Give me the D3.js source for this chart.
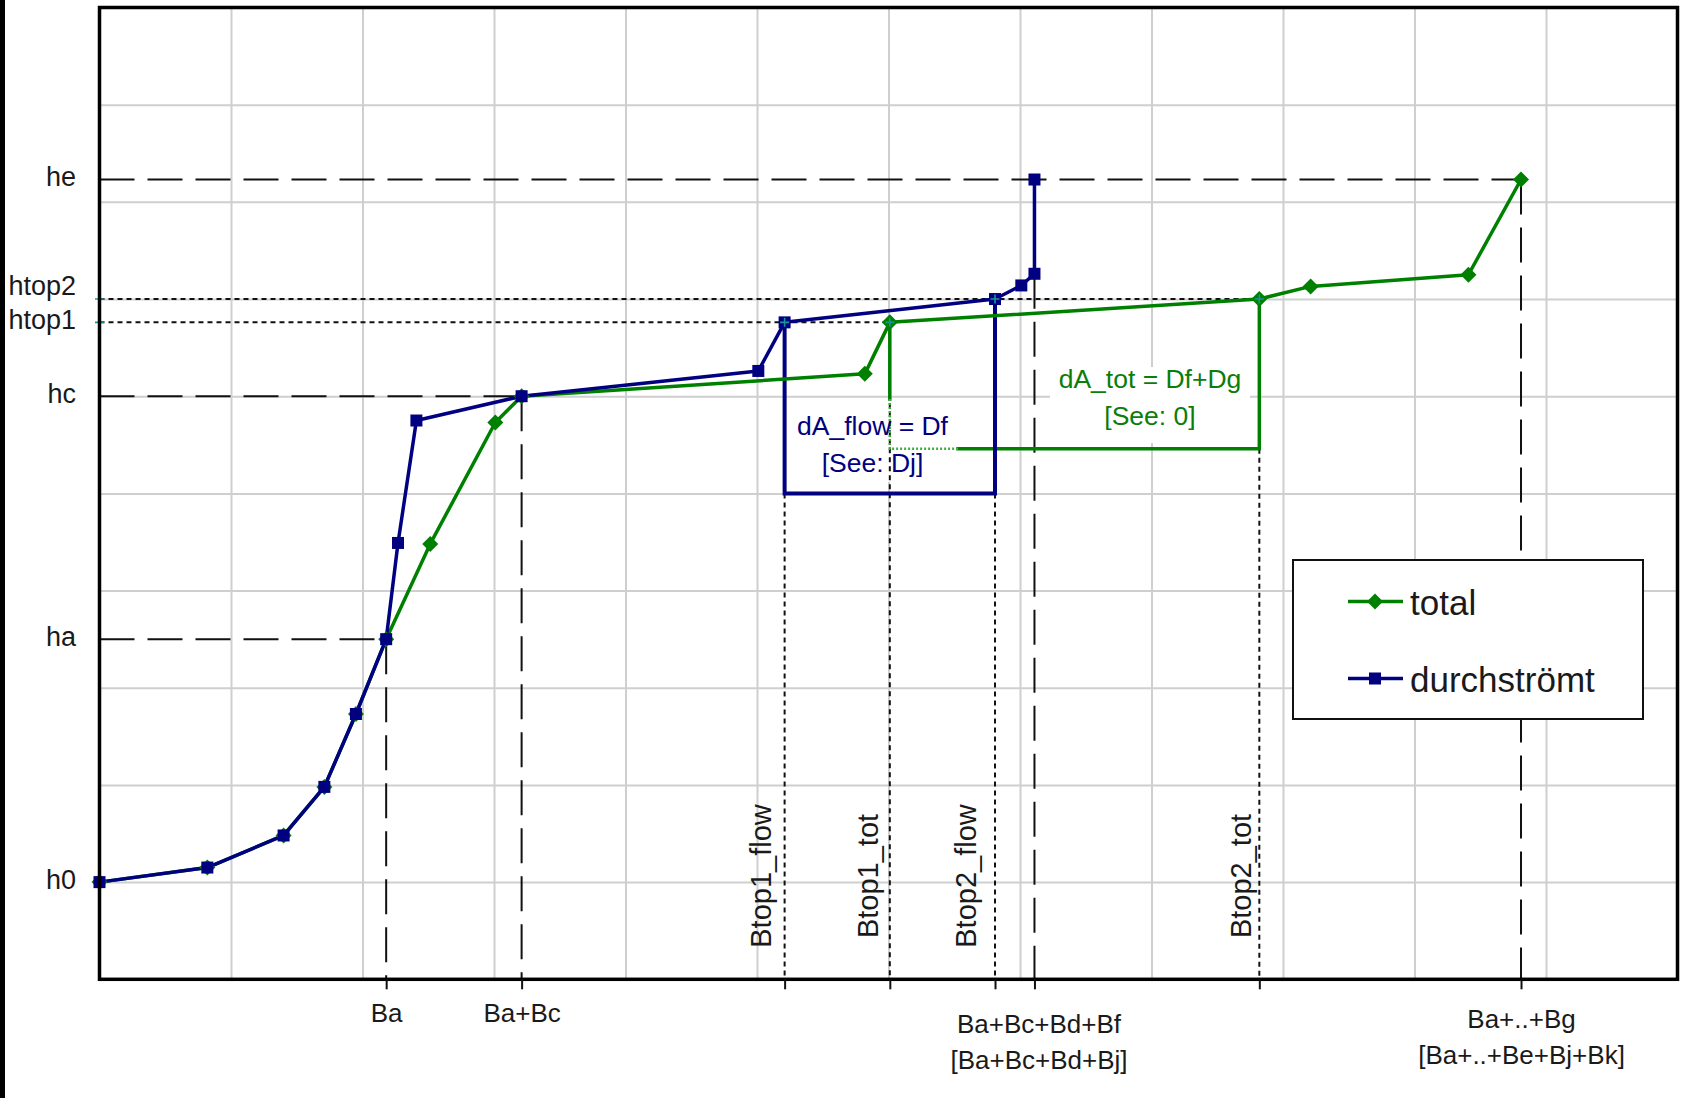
<!DOCTYPE html>
<html><head><meta charset="utf-8">
<script src="https://cdn.jsdelivr.net/npm/d3@7"></script>
<style>
html,body{margin:0;padding:0;background:#fff;}
svg{display:block;}
text{font-family:"Liberation Sans", Arial, sans-serif;}
</style></head><body>
<svg id="chart" width="1683" height="1098"></svg>
<script>
// ---------------- data ----------------
const seriesNames = ["total", "durchströmt"];
const totalX = [0, 0.82, 1.40, 1.71, 1.95, 2.18, 2.515, 3.01, 3.21, 5.82, 6.01, 8.82, 9.21, 10.41, 10.81];
const totalY = [1.0, 1.15, 1.48, 1.98, 2.73, 3.5, 4.48, 5.73, 6.0, 6.23, 6.76, 7.0, 7.13, 7.25, 8.23];
const flowX  = [0, 0.82, 1.40, 1.71, 1.95, 2.18, 2.27, 2.41, 3.21, 5.01, 5.21, 6.81, 7.01, 7.11, 7.11];
const flowY  = [1.0, 1.15, 1.48, 1.98, 2.73, 3.5, 4.49, 5.75, 6.0, 6.26, 6.76, 7.0, 7.14, 7.26, 8.23];

const yLevelNames  = ["h0", "ha", "hc", "htop1", "htop2", "he"];
const yLevelValues = [1.0, 3.5, 6.0, 6.76, 7.0, 8.23];

const xMarkNames  = ["Ba", "Ba+Bc", "Btop1_flow", "Btop1_tot", "Btop2_flow", "Ba+Bc+Bd+Bf", "Btop2_tot", "Ba+..+Bg"];
const xMarkValues = [2.18, 3.21, 5.21, 6.01, 6.81, 7.11, 8.82, 10.81];

const xAxisLabels = ["Ba", "Ba+Bc", "Ba+Bc+Bd+Bf|[Ba+Bc+Bd+Bj]", "Ba+..+Bg|[Ba+..+Be+Bj+Bk]"];
const xAxisValues = [2.18, 3.21, 7.11, 10.81];

const rotatedNames  = ["Btop1_flow", "Btop1_tot", "Btop2_flow", "Btop2_tot"];
const rotatedValues = [5.21, 6.01, 6.81, 8.82];

const boxFlowBottom = 5.0;
const boxTotBottom  = 5.46;
const annotFlow = ["dA_flow = Df", "[See: Dj]"];
const annotTot  = ["dA_tot = Df+Dg", "[See: 0]"];

// ---------------- layout ----------------
const svg = d3.select("#chart");
const L = 99.5, R = 1677.5, T = 7.5, B = 979.3;
const x = d3.scaleLinear().domain([0, 12]).range([L, R]);
const y = d3.scaleLinear().domain([0, 10]).range([B, T]);
const NAVY = "#000080", GREEN = "#008000", INK = "#1a1a1a", TEAL = "#149696";
const LONG = "35,13", DOT = "5,4";

const v = (name) => xMarkValues[xMarkNames.indexOf(name)];
const h = (name) => yLevelValues[yLevelNames.indexOf(name)];

svg.append("rect").attr("width", 1683).attr("height", 1098).attr("fill", "#fff");
svg.append("rect").attr("x", 0).attr("y", 0).attr("width", 5).attr("height", 1098).attr("fill", "#000");

// gridlines
svg.append("g").attr("transform", `translate(0,${B})`)
  .call(d3.axisBottom(x).tickValues(d3.range(1, 12)).tickSize(-(B - T)).tickFormat(""))
  .call(g => g.select(".domain").remove())
  .selectAll("line").attr("stroke", "#cfcfcf").attr("stroke-width", 2);
svg.append("g").attr("transform", `translate(${L},0)`)
  .call(d3.axisLeft(y).tickValues(d3.range(1, 10)).tickSize(-(R - L)).tickFormat(""))
  .call(g => g.select(".domain").remove())
  .selectAll("line").attr("stroke", "#cfcfcf").attr("stroke-width", 2);

// label backgrounds
const flowRect = {x0: 790, x1: 958, y0: 399, y1: 482};
const totRect  = {x0: 1050, x1: 1250, y0: 367, y1: 443};
[flowRect, totRect].forEach(r => svg.append("rect")
  .attr("x", r.x0).attr("y", r.y0).attr("width", r.x1 - r.x0).attr("height", r.y1 - r.y0).attr("fill", "#fff"));

// reference lines
const ref = svg.append("g").attr("stroke", "#111").attr("stroke-width", 2).attr("fill", "none");
function refLine(x1, y1, x2, y2, dash) {
  ref.append("line").attr("x1", x1).attr("y1", y1).attr("x2", x2).attr("y2", y2).attr("stroke-dasharray", dash);
}
refLine(x(0), y(h("ha")), x(v("Ba")), y(h("ha")), LONG);
refLine(x(0), y(h("hc")), x(v("Ba+Bc")), y(h("hc")), LONG);
refLine(x(0), y(h("he")), x(v("Ba+..+Bg")), y(h("he")), LONG);
refLine(x(0), y(h("htop1")), x(v("Btop1_tot")), y(h("htop1")), DOT);
refLine(x(0), y(h("htop2")), x(v("Btop2_tot")), y(h("htop2")), DOT);
refLine(x(v("Ba")), y(h("ha")), x(v("Ba")), B, LONG);
refLine(x(v("Ba+Bc")), y(h("hc")), x(v("Ba+Bc")), B, LONG);
refLine(x(v("Ba+Bc+Bd+Bf")), y(flowY[13]), x(v("Ba+Bc+Bd+Bf")), B, LONG);
refLine(x(v("Ba+..+Bg")), y(h("he")), x(v("Ba+..+Bg")), B, LONG);
refLine(x(v("Btop1_flow")), y(boxFlowBottom), x(v("Btop1_flow")), B, DOT);
refLine(x(v("Btop1_tot")), y(h("htop1")), x(v("Btop1_tot")), B, DOT);
refLine(x(v("Btop2_flow")), y(boxFlowBottom), x(v("Btop2_flow")), B, DOT);
refLine(x(v("Btop2_tot")), y(boxTotBottom), x(v("Btop2_tot")), B, DOT);

// green box (parts inside the flow label are drawn dotted)
const gb = svg.append("g").attr("fill", "none").attr("stroke-linecap", "square");
const gx0 = x(v("Btop1_tot")), gx1 = x(v("Btop2_tot")), gyb = y(boxTotBottom);
gb.append("path").attr("stroke", GREEN).attr("stroke-width", 3.5)
  .attr("d", `M${gx0},${y(h("htop1"))}V${flowRect.y0}M${flowRect.x1},${gyb}H${gx1}V${y(h("htop2"))}`);
gb.append("path").attr("stroke", "#3fae3f").attr("stroke-width", 2.5).attr("stroke-dasharray", "2,2")
  .attr("stroke-linecap", "butt")
  .attr("d", `M${gx0},${flowRect.y0}V${gyb}H${flowRect.x1}`);

// blue box
const bx0 = x(v("Btop1_flow")), bx1 = x(v("Btop2_flow")), byb = y(boxFlowBottom);
svg.append("path").attr("fill", "none").attr("stroke", NAVY).attr("stroke-width", 4)
  .attr("stroke-linecap", "square")
  .attr("d", `M${bx0},${y(h("htop1"))}V${byb}H${bx1}V${y(h("htop2"))}`);

// series
const line = d3.line().x(d => x(d[0])).y(d => y(d[1]));
const totalPts = totalX.map((d, i) => [d, totalY[i]]);
const flowPts = flowX.map((d, i) => [d, flowY[i]]);
svg.append("path").datum(totalPts).attr("d", line).attr("fill", "none")
  .attr("stroke", GREEN).attr("stroke-width", 3.5).attr("stroke-linejoin", "round");
svg.append("path").datum(flowPts).attr("d", line).attr("fill", "none")
  .attr("stroke", NAVY).attr("stroke-width", 3.5).attr("stroke-linejoin", "round");

const diamond = "M0,-8L8,0L0,8L-8,0Z";
svg.append("g").selectAll("path").data(totalPts).join("path")
  .attr("d", diamond).attr("fill", GREEN)
  .attr("transform", d => `translate(${x(d[0])},${y(d[1])})`);
svg.append("g").selectAll("rect").data(flowPts).join("rect")
  .attr("x", d => x(d[0]) - 6).attr("y", d => y(d[1]) - 6)
  .attr("width", 12).attr("height", 12).attr("fill", NAVY);

// teal crosses at htop intersections
const crossPts = [[0, h("htop1")], [0, h("htop2")], [v("Btop1_flow"), h("htop1")], [v("Btop1_tot"), h("htop1")],
                  [v("Btop2_flow"), h("htop2")], [v("Btop2_tot"), h("htop2")]];
svg.append("g").selectAll("path").data(crossPts).join("path")
  .attr("d", "M-4.5,0H4.5M0,-4.5V4.5").attr("stroke", TEAL).attr("stroke-width", 1.6)
  .attr("transform", d => `translate(${x(d[0])},${y(d[1])})`);

// annotations
function annot(lines, cx, base, color) {
  const t = svg.append("text").attr("text-anchor", "middle").attr("fill", color).attr("font-size", 26.5);
  lines.forEach((s, i) => t.append("tspan").attr("x", cx).attr("y", base + i * 36.5).text(s));
}
annot(annotFlow, (flowRect.x0 + flowRect.x1) / 2 - 1.5, 435, NAVY);
annot(annotTot, (totRect.x0 + totRect.x1) / 2, 388, "#0a7d0a");

// rotated labels
const rotDx = [-14, -11.5, -19, -8.5];
svg.append("g").selectAll("text").data(rotatedNames).join("text")
  .attr("text-anchor", "middle").attr("font-size", 29).attr("fill", INK)
  .attr("transform", (d, i) => `translate(${x(rotatedValues[i]) + rotDx[i]},876) rotate(-90)`)
  .text(d => d);

// plot border
svg.append("rect").attr("x", L).attr("y", T).attr("width", R - L).attr("height", B - T)
  .attr("fill", "none").attr("stroke", "#000").attr("stroke-width", 3.5);

// bottom ticks
svg.append("g").attr("transform", `translate(0,${B})`)
  .call(d3.axisBottom(x).tickValues(xMarkValues).tickSize(10).tickFormat(""))
  .call(g => g.select(".domain").remove())
  .selectAll("line").attr("stroke", "#111").attr("stroke-width", 2);

// bottom axis labels
const xLabBase = [43, 43, 54, 49];
const xLabDx = [0, 0, 4, 0];
const xAx = svg.append("g").attr("transform", `translate(0,${B})`)
  .call(d3.axisBottom(x).tickValues(xAxisValues).tickSize(0).tickFormat((d, i) => xAxisLabels[i]));
xAx.select(".domain").remove();
xAx.selectAll("text").each(function (d, i) {
  const t = d3.select(this);
  const parts = xAxisLabels[i].split("|");
  t.text(null).attr("y", null).attr("dy", null).attr("font-size", 26).attr("fill", INK)
   .attr("font-family", "Liberation Sans, Arial, sans-serif");
  parts.forEach((s, k) => t.append("tspan").attr("x", xLabDx[i]).attr("y", xLabBase[i] + k * 35.5).text(s));
});

// left axis labels
const yAx = svg.append("g").attr("transform", `translate(${L},0)`)
  .call(d3.axisLeft(y).tickValues(yLevelValues).tickSize(0).tickPadding(23.5).tickFormat((d, i) => yLevelNames[i]));
yAx.select(".domain").remove();
yAx.selectAll("text").attr("font-size", 27).attr("fill", INK)
  .attr("font-family", "Liberation Sans, Arial, sans-serif")
  .attr("dy", (d, i) => yLevelNames[i] === "htop2" ? "-4.5" : "6");

// legend
const lg = svg.append("g");
lg.append("rect").attr("x", 1293).attr("y", 560).attr("width", 350).attr("height", 159)
  .attr("fill", "#fff").attr("stroke", "#111").attr("stroke-width", 2);
const legendY = [601.5, 678.5];
const legendColor = [GREEN, NAVY];
seriesNames.forEach((name, i) => {
  const g = lg.append("g").attr("transform", `translate(0,${legendY[i]})`);
  g.append("line").attr("x1", 1348).attr("x2", 1403).attr("stroke", legendColor[i]).attr("stroke-width", 3.5);
  if (i === 0) g.append("path").attr("d", diamond).attr("fill", GREEN).attr("transform", "translate(1375,0)");
  else g.append("rect").attr("x", 1369).attr("y", -6).attr("width", 12).attr("height", 12).attr("fill", NAVY);
  g.append("text").attr("x", 1410).attr("y", 13).attr("font-size", 35).attr("fill", INK).text(name);
});
</script>
</body></html>
